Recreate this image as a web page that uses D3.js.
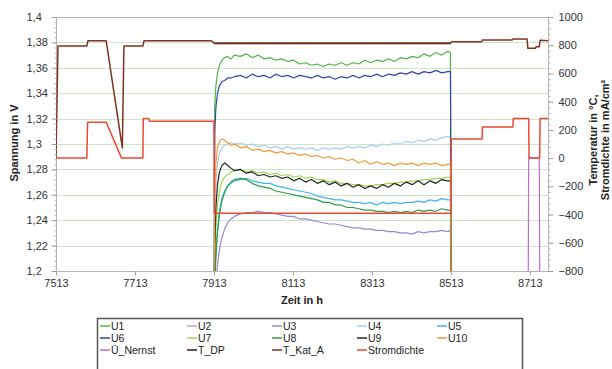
<!DOCTYPE html>
<html>
<head>
<meta charset="utf-8">
<script src="https://cdn.jsdelivr.net/npm/d3@7"></script>
<style>
  html, body { margin: 0; padding: 0; background: #fff; }
  svg { display: block; font-family: "Liberation Sans", Arial, sans-serif; }
</style>
</head>
<body>
<div id="chart"></div>
<script>
// axis ticks
const xTicks = [7513, 7713, 7913, 8113, 8313, 8513, 8713];
const leftTicks = [1.2, 1.22, 1.24, 1.26, 1.28, 1.3, 1.32, 1.34, 1.36, 1.38, 1.4];
const leftTickLabels = ['1,2', '1,22', '1,24', '1,26', '1,28', '1,3', '1,32', '1,34', '1,36', '1,38', '1,4'];
const rightTicks = [-800, -600, -400, -200, 0, 200, 400, 600, 800, 1000];

// cell voltages during the run 7913 - 8513 h (values below 1,2 V are off scale)
const runHours = [7913, 7915, 7918, 7922, 7927, 7933, 7940, 7948, 7956, 7965, 7980, 7995, 8010, 8025, 8040, 8055, 8070, 8085, 8100, 8115, 8130, 8145, 8160, 8175, 8190, 8205, 8220, 8235, 8250, 8265, 8280, 8295, 8310, 8325, 8340, 8355, 8370, 8385, 8400, 8415, 8430, 8445, 8460, 8475, 8490, 8505, 8512, 8514];
const u1 = [1.15, 1.330, 1.346, 1.356, 1.362, 1.366, 1.368, 1.369, 1.367, 1.370, 1.369, 1.371, 1.368, 1.370, 1.367, 1.368, 1.366, 1.367, 1.365, 1.366, 1.363, 1.364, 1.362, 1.363, 1.361, 1.363, 1.362, 1.364, 1.362, 1.364, 1.363, 1.366, 1.364, 1.366, 1.365, 1.367, 1.365, 1.368, 1.367, 1.369, 1.368, 1.371, 1.369, 1.372, 1.370, 1.373, 1.372, 1.15];
const u2 = []; // off scale
const u3 = [1.15, 1.170, 1.190, 1.205, 1.217, 1.226, 1.233, 1.238, 1.241, 1.243, 1.245, 1.246, 1.246, 1.247, 1.246, 1.246, 1.245, 1.244, 1.243, 1.243, 1.241, 1.241, 1.240, 1.239, 1.238, 1.237, 1.237, 1.236, 1.235, 1.234, 1.234, 1.233, 1.233, 1.232, 1.232, 1.231, 1.231, 1.230, 1.230, 1.229, 1.231, 1.230, 1.231, 1.231, 1.232, 1.231, 1.232, 1.15];
const u4 = [1.15, 1.240, 1.270, 1.285, 1.293, 1.297, 1.299, 1.300, 1.301, 1.300, 1.301, 1.299, 1.300, 1.298, 1.299, 1.297, 1.298, 1.296, 1.298, 1.296, 1.297, 1.296, 1.297, 1.295, 1.297, 1.296, 1.297, 1.296, 1.298, 1.297, 1.298, 1.297, 1.299, 1.298, 1.300, 1.299, 1.301, 1.300, 1.302, 1.301, 1.303, 1.302, 1.304, 1.303, 1.305, 1.306, 1.305, 1.15];
const u5 = [1.15, 1.190, 1.215, 1.233, 1.247, 1.257, 1.263, 1.267, 1.269, 1.271, 1.272, 1.273, 1.271, 1.270, 1.269, 1.269, 1.267, 1.266, 1.265, 1.264, 1.263, 1.262, 1.261, 1.259, 1.258, 1.257, 1.256, 1.256, 1.255, 1.254, 1.254, 1.253, 1.254, 1.252, 1.254, 1.253, 1.254, 1.253, 1.254, 1.254, 1.255, 1.254, 1.256, 1.255, 1.257, 1.256, 1.256, 1.15];
const u6 = [1.15, 1.310, 1.329, 1.340, 1.346, 1.349, 1.350, 1.352, 1.352, 1.353, 1.354, 1.352, 1.355, 1.353, 1.354, 1.352, 1.355, 1.353, 1.354, 1.352, 1.354, 1.353, 1.352, 1.354, 1.352, 1.353, 1.351, 1.353, 1.352, 1.354, 1.352, 1.354, 1.353, 1.355, 1.353, 1.355, 1.354, 1.356, 1.355, 1.357, 1.355, 1.357, 1.356, 1.358, 1.356, 1.357, 1.357, 1.15];
const u7 = [1.15, 1.210, 1.235, 1.252, 1.263, 1.270, 1.274, 1.276, 1.278, 1.279, 1.280, 1.278, 1.279, 1.277, 1.278, 1.276, 1.277, 1.275, 1.276, 1.274, 1.275, 1.273, 1.274, 1.272, 1.272, 1.270, 1.271, 1.269, 1.269, 1.268, 1.268, 1.267, 1.267, 1.268, 1.268, 1.269, 1.269, 1.270, 1.270, 1.271, 1.271, 1.272, 1.272, 1.273, 1.273, 1.274, 1.273, 1.15];
const u8 = [1.15, 1.190, 1.212, 1.230, 1.245, 1.255, 1.262, 1.267, 1.270, 1.272, 1.273, 1.272, 1.269, 1.267, 1.266, 1.265, 1.263, 1.262, 1.261, 1.260, 1.259, 1.258, 1.257, 1.256, 1.254, 1.254, 1.252, 1.252, 1.250, 1.250, 1.249, 1.248, 1.248, 1.247, 1.247, 1.246, 1.247, 1.246, 1.247, 1.246, 1.248, 1.247, 1.248, 1.247, 1.249, 1.248, 1.248, 1.15];
const u9 = [1.15, 1.220, 1.250, 1.268, 1.278, 1.283, 1.285, 1.283, 1.281, 1.279, 1.280, 1.277, 1.278, 1.275, 1.276, 1.274, 1.275, 1.273, 1.274, 1.271, 1.273, 1.270, 1.272, 1.269, 1.271, 1.268, 1.270, 1.267, 1.269, 1.266, 1.268, 1.265, 1.267, 1.265, 1.268, 1.266, 1.269, 1.267, 1.270, 1.268, 1.271, 1.268, 1.271, 1.269, 1.272, 1.271, 1.271, 1.15];
const u10 = [1.15, 1.260, 1.285, 1.297, 1.302, 1.304, 1.303, 1.301, 1.299, 1.300, 1.297, 1.298, 1.295, 1.296, 1.294, 1.295, 1.293, 1.294, 1.292, 1.293, 1.291, 1.292, 1.290, 1.291, 1.289, 1.290, 1.288, 1.289, 1.287, 1.288, 1.285, 1.287, 1.284, 1.286, 1.284, 1.285, 1.283, 1.285, 1.284, 1.285, 1.283, 1.285, 1.284, 1.285, 1.283, 1.284, 1.284, 1.15];

// Nernst voltage (only on scale 8710 - 8738 h)
const nernstHours = [8708, 8710, 8737, 8739, 8759];
const nernstVals = [1.10, 1.289, 1.289, 1.10, 1.10];

// secondary axis: temperatures in °C and current density in mA/cm²
const dpHours = [7913, 8513];
const dpVals = [812, 812];
const katHours = [7513, 7518, 7591, 7594, 7640, 7681, 7685, 7733, 7736, 7905, 7913, 8513, 8515, 8591, 8593, 8668, 8670, 8706, 8708, 8727, 8729, 8737, 8739, 8759];
const katVals = [0, 794, 794, 832, 832, 72, 794, 794, 832, 832, 816, 816, 825, 825, 837, 837, 844, 844, 778, 778, 790, 790, 835, 832];
const stromHours = [7513, 7591, 7593, 7640, 7679, 7733, 7734, 7748, 7750, 7913, 7914, 8513, 8514, 8592, 8593, 8670, 8671, 8710, 8711, 8738, 8739, 8759];
const stromVals = [0, 0, 255, 255, 0, 0, 280, 280, 262, 262, -390, -390, 135, 135, 220, 220, 280, 280, 0, 0, 280, 280];

const names = ['U1', 'U2', 'U3', 'U4', 'U5', 'U6', 'U7', 'U8', 'U9', 'U10', 'Ü_Nernst', 'T_DP', 'T_Kat_A', 'Stromdichte'];
const colors = ['#52b548', '#c9a3ad', '#9a88d0', '#a9cdee', '#3fb6e6', '#3646a6', '#a6d255', '#2f9c4a', '#1f2a1f', '#f39a3a', '#bf6cc8', '#2a1a14', '#7e3320', '#ea4a35'];

const W = 612, H = 369;
const plot = { left: 56, right: 548, top: 17, bottom: 271 };

const svg = d3.select('#chart').append('svg')
  .attr('width', W)
  .attr('height', H);

const x = d3.scaleLinear().domain([7513, 8759]).range([plot.left, plot.right]);
const yL = d3.scaleLinear().domain([1.2, 1.4]).range([plot.bottom, plot.top]);
const yR = d3.scaleLinear().domain([-800, 1000]).range([plot.bottom, plot.top]);

svg.append('clipPath').attr('id', 'clip')
  .append('rect')
  .attr('x', plot.left).attr('y', plot.top)
  .attr('width', plot.right - plot.left).attr('height', plot.bottom - plot.top);

// gridlines
svg.append('g')
  .selectAll('line')
  .data(leftTicks.slice(1, -1))
  .enter().append('line')
  .attr('x1', plot.left).attr('x2', plot.right)
  .attr('y1', d => Math.round(yL(d)) + 0.5).attr('y2', d => Math.round(yL(d)) + 0.5)
  .attr('stroke', '#cfe6c6')
  .attr('stroke-width', 1);

// plot border
svg.append('rect')
  .attr('x', plot.left + 0.5).attr('y', plot.top + 0.5)
  .attr('width', plot.right - plot.left).attr('height', plot.bottom - plot.top)
  .attr('fill', 'none')
  .attr('stroke', '#b4b4b4');

// series
const series = [
  { hours: runHours, vals: u1, axis: yL },
  { hours: runHours, vals: u2, axis: yL },
  { hours: runHours, vals: u3, axis: yL },
  { hours: runHours, vals: u4, axis: yL },
  { hours: runHours, vals: u5, axis: yL },
  { hours: runHours, vals: u6, axis: yL },
  { hours: runHours, vals: u7, axis: yL },
  { hours: runHours, vals: u8, axis: yL },
  { hours: runHours, vals: u9, axis: yL },
  { hours: runHours, vals: u10, axis: yL },
  { hours: nernstHours, vals: nernstVals, axis: yL },
  { hours: dpHours, vals: dpVals, axis: yR },
  { hours: katHours, vals: katVals, axis: yR },
  { hours: stromHours, vals: stromVals, axis: yR }
];

const lines = svg.append('g').attr('clip-path', 'url(#clip)');
series.forEach((s, i) => {
  if (!s.vals.length) return;
  const pts = s.vals.map((v, j) => [s.hours[j], v]);
  const line = d3.line().x(d => x(d[0])).y(d => s.axis(d[1]));
  lines.append('path')
    .attr('d', line(pts))
    .attr('fill', 'none')
    .attr('stroke', colors[i])
    .attr('stroke-width', i === 12 ? 1.5 : (i === 13 ? 1.5 : 1.2))
    .attr('stroke-linejoin', 'round');
});

// left axis
const leftAxis = svg.append('g')
  .attr('transform', 'translate(' + (plot.left + 0.5) + ',0)')
  .call(d3.axisLeft(yL).tickValues(d3.range(0, 51).map(i => 1.2 + i * 0.004)).tickSize(2).tickFormat(''));
leftAxis.call(g => g.select('.domain').remove());
leftAxis.selectAll('line').attr('stroke', '#b4b4b4');
const leftMajor = svg.append('g')
  .attr('transform', 'translate(' + (plot.left + 0.5) + ',0)')
  .call(d3.axisLeft(yL).tickValues(leftTicks).tickSize(5).tickFormat((d, i) => leftTickLabels[i]));
leftMajor.select('.domain').remove();
leftMajor.selectAll('line').attr('stroke', '#a0a0a0');
leftMajor.selectAll('text')
  .attr('x', 26 - plot.left)
  .attr('text-anchor', 'start')
  .attr('font-size', 11)
  .attr('fill', '#333')
  .attr('font-family', '"Liberation Sans", Arial, sans-serif');

// right axis
const rightMinor = svg.append('g')
  .attr('transform', 'translate(' + (plot.right + 0.5) + ',0)')
  .call(d3.axisRight(yR).tickValues(d3.range(0, 46).map(i => -800 + i * 40)).tickSize(2).tickFormat(''));
rightMinor.select('.domain').remove();
rightMinor.selectAll('line').attr('stroke', '#b4b4b4');
const rightMajor = svg.append('g')
  .attr('transform', 'translate(' + (plot.right + 0.5) + ',0)')
  .call(d3.axisRight(yR).tickValues(rightTicks).tickSize(5).tickFormat(d3.format('d')));
rightMajor.select('.domain').remove();
rightMajor.selectAll('line').attr('stroke', '#a0a0a0');
rightMajor.selectAll('text')
  .attr('x', 10)
  .attr('font-size', 11)
  .attr('fill', '#333')
  .attr('font-family', '"Liberation Sans", Arial, sans-serif');

// bottom axis
const bottomAxis = svg.append('g')
  .attr('transform', 'translate(0,' + (plot.bottom + 0.5) + ')')
  .call(d3.axisBottom(x).tickValues(xTicks).tickSize(4).tickFormat(d3.format('d')));
bottomAxis.select('.domain').remove();
bottomAxis.selectAll('line').attr('stroke', '#a0a0a0');
bottomAxis.selectAll('text')
  .attr('y', 8)
  .attr('font-size', 11)
  .attr('fill', '#333')
  .attr('font-family', '"Liberation Sans", Arial, sans-serif');

// axis titles
svg.append('text')
  .attr('transform', 'translate(18,143) rotate(-90)')
  .attr('text-anchor', 'middle')
  .attr('font-size', 11).attr('font-weight', 'bold').attr('fill', '#222')
  .text('Spannung in V');
svg.append('text')
  .attr('x', 302).attr('y', 304)
  .attr('text-anchor', 'middle')
  .attr('font-size', 11).attr('font-weight', 'bold').attr('fill', '#222')
  .text('Zeit in h');
svg.append('text')
  .attr('transform', 'translate(597,140) rotate(-90)')
  .attr('text-anchor', 'middle')
  .attr('font-size', 11).attr('font-weight', 'bold').attr('fill', '#222')
  .text('Temperatur in °C,');
svg.append('text')
  .attr('transform', 'translate(609,140) rotate(-90)')
  .attr('text-anchor', 'middle')
  .attr('font-size', 11).attr('font-weight', 'bold').attr('fill', '#222')
  .text('Stromdichte in mA/cm²');

// legend
const legend = svg.append('g');
legend.append('rect')
  .attr('x', 97.5).attr('y', 318.5)
  .attr('width', 425).attr('height', 60)
  .attr('fill', '#fff')
  .attr('stroke', '#555')
  .attr('stroke-width', 1.5);
const colX = [100, 187, 272, 357, 437];
const rowY = [326, 338, 350];
const item = legend.selectAll('g.item')
  .data(names)
  .enter().append('g')
  .attr('class', 'item')
  .attr('transform', (d, i) => 'translate(' + colX[i % 5] + ',' + rowY[Math.floor(i / 5)] + ')');
item.append('line')
  .attr('x1', 0).attr('x2', 10)
  .attr('y1', 0).attr('y2', 0)
  .attr('stroke', (d, i) => colors[i])
  .attr('stroke-width', 1.5);
item.append('text')
  .attr('x', 11).attr('y', 4)
  .attr('font-size', 10.5)
  .attr('fill', '#222')
  .text(d => d);
</script>
</body>
</html>
